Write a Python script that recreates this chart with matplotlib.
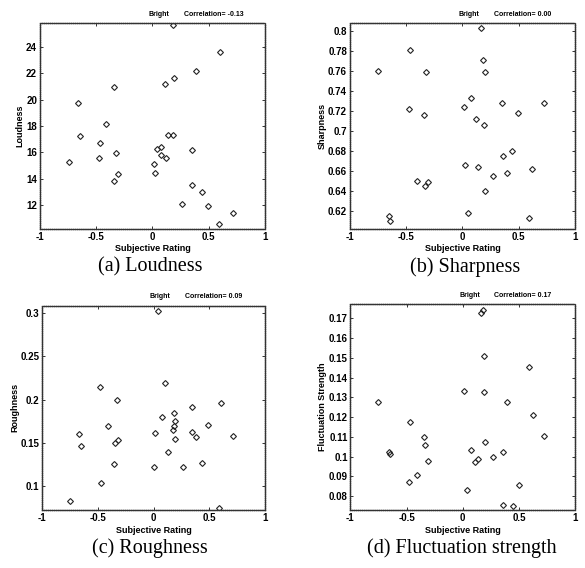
import numpy as np
import matplotlib
matplotlib.use("Agg")
import matplotlib.pyplot as plt

plt.rcParams['font.family'] = ['Liberation Sans', 'DejaVu Sans']

# (a) Loudness
loud_x = [0.18, 0.60, 0.385, 0.19, 0.11, -0.34, -0.66, -0.41, -0.64, -0.465,
          0.14, 0.18, 0.04, 0.08, 0.35, -0.32, 0.08, 0.12, -0.74, -0.47,
          0.01, -0.305, 0.02, -0.34, 0.35, 0.44, 0.26, 0.495, 0.72, 0.59]
loud_y = [25.7, 23.62, 22.18, 21.65, 21.17, 20.97, 19.76, 18.2, 17.26, 16.75,
          17.33, 17.33, 16.25, 16.4, 16.2, 15.95, 15.8, 15.6, 15.3, 15.55,
          15.1, 14.4, 14.48, 13.85, 13.55, 13.0, 12.1, 11.93, 11.37, 10.54]

# (b) Sharpness
sharp_x = [0.166, -0.465, 0.18, -0.75, -0.323, 0.196, 0.077, 0.353, 0.726, 0.012,
           -0.477, 0.495, -0.344, 0.116, 0.19, 0.444, 0.356, 0.02, 0.14, 0.62,
           0.394, 0.267, -0.404, -0.305, -0.335, 0.2, 0.053, -0.656, -0.645, 0.594]
sharp_y = [0.8027, 0.781, 0.771, 0.7603, 0.7593, 0.7593, 0.7333, 0.728, 0.7277, 0.7237,
           0.722, 0.7177, 0.716, 0.7123, 0.706, 0.68, 0.6747, 0.6653, 0.6633, 0.662,
           0.6577, 0.655, 0.6493, 0.6483, 0.645, 0.6393, 0.6177, 0.6147, 0.6093, 0.6123]

# (c) Roughness
rough_x = [0.042, 0.107, -0.481, -0.331, 0.606, 0.346, 0.183, 0.192, 0.18, 0.17,
           0.075, -0.412, 0.487, -0.666, 0.015, 0.344, 0.385, 0.716, 0.195, -0.319,
           -0.343, -0.648, 0.13, -0.352, 0.436, 0.006, 0.263, -0.472, -0.746, 0.588]
rough_y = [0.3031, 0.2195, 0.2141, 0.199, 0.1955, 0.1917, 0.1846, 0.175, 0.169, 0.1646,
           0.180, 0.1694, 0.1705, 0.160, 0.1607, 0.1622, 0.1568, 0.158, 0.1538, 0.153,
           0.149, 0.1456, 0.1394, 0.125, 0.1259, 0.1213, 0.122, 0.1027, 0.0826, 0.0737]

# (d) Fluctuation strength
fluct_x = [0.166, 0.18, 0.19, 0.59, 0.007, 0.19, -0.753, 0.397, 0.626, -0.466,
           0.727, -0.346, -0.337, 0.198, 0.075, -0.658, -0.649, 0.355, 0.27, 0.138,
           0.11, -0.31, -0.41, -0.48, 0.035, 0.498, 0.36, 0.445]
fluct_y = [0.1725, 0.174, 0.1509, 0.1455, 0.1332, 0.1328, 0.1274, 0.1274, 0.1212, 0.1176,
           0.1102, 0.1097, 0.1058, 0.1075, 0.1033, 0.1022, 0.1012, 0.1022, 0.0999, 0.0986,
           0.0971, 0.0977, 0.0905, 0.0871, 0.0833, 0.0857, 0.0754, 0.0749]

x_ticks = [-1, -0.5, 0, 0.5, 1]
x_labels = ['-1', '-0.5', '0', '0.5', '1']

panels = [
    dict(x=loud_x, y=loud_y, ylabel='Loudness', corr='-0.13', caption='(a) Loudness',
         yticks=[12, 14, 16, 18, 20, 22, 24],
         ylabels=['12', '14', '16', '18', '20', '22', '24'],
         ylim=(10.2, 25.85), rect=[0.068, 0.597, 0.385, 0.363], cap=(0.257, 0.530)),
    dict(x=sharp_x, y=sharp_y, ylabel='Sharpness', corr='0.00', caption='(b) Sharpness',
         yticks=[0.62, 0.64, 0.66, 0.68, 0.7, 0.72, 0.74, 0.76, 0.78, 0.8],
         ylabels=['0.62', '0.64', '0.66', '0.68', '0.7', '0.72', '0.74', '0.76', '0.78', '0.8'],
         ylim=(0.6017, 0.8083), rect=[0.598, 0.597, 0.385, 0.363], cap=(0.795, 0.530)),
    dict(x=rough_x, y=rough_y, ylabel='Roughness', corr='0.09', caption='(c) Roughness',
         yticks=[0.1, 0.15, 0.2, 0.25, 0.3],
         ylabels=['0.1', '0.15', '0.2', '0.25', '0.3'],
         ylim=(0.0718, 0.3089), rect=[0.072, 0.102, 0.381, 0.360], cap=(0.257, 0.035)),
    dict(x=fluct_x, y=fluct_y, ylabel='Fluctuation Strength', corr='0.17',
         caption='(d) Fluctuation strength',
         yticks=[0.08, 0.09, 0.1, 0.11, 0.12, 0.13, 0.14, 0.15, 0.16, 0.17],
         ylabels=['0.08', '0.09', '0.1', '0.11', '0.12', '0.13', '0.14', '0.15', '0.16', '0.17'],
         ylim=(0.0729, 0.1773), rect=[0.599, 0.102, 0.384, 0.363], cap=(0.790, 0.035)),
]

fig = plt.figure(figsize=(5.85, 5.68), dpi=100)

for p in panels:
    ax = fig.add_axes(p['rect'])
    ax.plot(p['x'], p['y'], linestyle='none', marker='D', markersize=3.0,
            markerfacecolor='none', markeredgecolor='#222222', markeredgewidth=0.8)
    ax.set_xlim(-1, 1)
    ax.set_ylim(*p['ylim'])
    ax.set_xticks(x_ticks)
    ax.set_xticklabels(x_labels, fontsize=7, fontweight='bold')
    ax.set_yticks(p['yticks'])
    ax.set_yticklabels(p['ylabels'], fontsize=7, fontweight='bold')
    ax.tick_params(direction='in', length=2, width=0.7, pad=2,
                   top=True, right=True, color='#333333')
    ax.set_xlabel('Subjective Rating', fontsize=6.5, fontweight='bold', labelpad=2)
    ax.set_ylabel(p['ylabel'], fontsize=6.5, fontweight='bold', labelpad=1)
    for s in ax.spines.values():
        s.set_linestyle((0, (1, 0.5)))
        s.set_linewidth(1.0)
        s.set_color('#333333')
    ax.text(0.53, 1.025, 'Bright', transform=ax.transAxes, ha='center', va='bottom',
            fontsize=5, fontweight='bold')
    ax.text(0.64, 1.025, 'Correlation= ' + p['corr'], transform=ax.transAxes,
            ha='left', va='bottom', fontsize=5, fontweight='bold')
    fig.text(p['cap'][0], p['cap'][1], p['caption'], ha='center', va='center',
             fontsize=14.5, family='Liberation Serif')

fig.savefig('out.png', dpi=100)
